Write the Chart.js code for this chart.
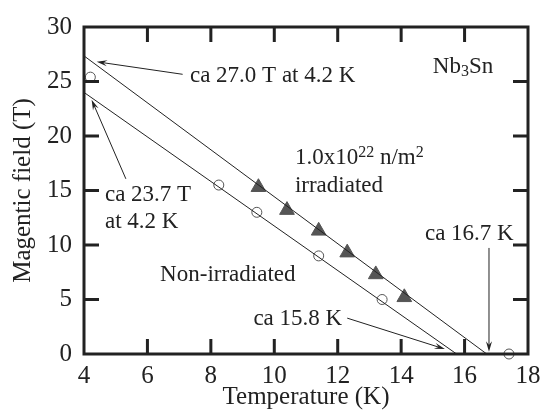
<!DOCTYPE html>
<html>
<head>
<meta charset="utf-8">
<script src="https://cdn.jsdelivr.net/npm/chart.js@4"></script>
<style>
    html, body { margin: 0; padding: 0; background: #fff; }
    #grafico { display: block; }
</style>
</head>
<body>
<canvas id="grafico" width="549" height="412"></canvas>
<script>
// Datos
const xTicks = [4, 6, 8, 10, 12, 14, 16, 18];
const yTicks = [0, 5, 10, 15, 20, 25, 30];

const irrTemp = [9.5, 10.4, 11.4, 12.3, 13.2, 14.1];
const irrField = [15.3, 13.2, 11.3, 9.3, 7.3, 5.2];

const nonTemp = [4.2, 8.25, 9.45, 11.4, 13.4, 17.4];
const nonField = [25.4, 15.5, 13.0, 9.0, 5.0, 0];

const irrFitTemp = [4, 16.7];
const irrFitField = [27.35, 0];
const nonFitTemp = [4, 15.75];
const nonFitField = [24.0, 0];

const serif = '"Liberation Serif", "DejaVu Serif", serif';

// Textos y flechas (en unidades de los ejes)
const textos = [
    { x: 7.34, y: 24.93, parts: [{ t: 'ca 27.0 T at 4.2 K' }] },
    { x: 15.0, y: 25.75, parts: [{ t: 'Nb' }, { t: '3', sub: true }, { t: 'Sn' }] },
    { x: 10.65, y: 17.4, parts: [{ t: '1.0x10' }, { t: '22', sup: true }, { t: ' n/m' }, { t: '2', sup: true }] },
    { x: 10.65, y: 14.87, parts: [{ t: 'irradiated' }] },
    { x: 4.66, y: 14.03, parts: [{ t: 'ca 23.7 T' }] },
    { x: 4.66, y: 11.54, parts: [{ t: 'at 4.2 K' }] },
    { x: 6.4, y: 6.71, parts: [{ t: 'Non-irradiated' }] },
    { x: 14.75, y: 10.49, parts: [{ t: 'ca 16.7 K' }] },
    { x: 12.14, y: 2.63, align: 'right', parts: [{ t: 'ca 15.8 K' }] }
];

const flechas = [
    { from: [7.11, 25.66], to: [4.40, 26.81] },
    { from: [5.32, 16.07], to: [4.24, 23.33] },
    { from: [16.77, 9.73], to: [16.77, 0.21] },
    { from: [12.30, 3.29], to: [15.38, 0.45] }
];

function puntos(xs, ys) {
    return xs.map((x, i) => ({ x: x, y: ys[i] }));
}

function dibujarTexto(ctx, item, px, py) {
    const base = 23;
    const medir = p => {
        ctx.font = ((p.sup || p.sub) ? 16 : base) + 'px ' + serif;
        return ctx.measureText(p.t).width;
    };
    let ancho = item.parts.reduce((s, p) => s + medir(p), 0);
    let x = item.align === 'right' ? px - ancho : px;
    ctx.textAlign = 'left';
    ctx.textBaseline = 'alphabetic';
    ctx.fillStyle = '#222';
    item.parts.forEach(p => {
        const w = medir(p);
        let dy = 0;
        if (p.sup) dy = -7;
        if (p.sub) dy = 3;
        ctx.fillText(p.t, x, py + dy);
        x += w;
    });
}

function dibujarFlecha(ctx, x1, y1, x2, y2) {
    const ang = Math.atan2(y2 - y1, x2 - x1);
    const largo = 11, abre = 0.28;
    ctx.strokeStyle = '#222';
    ctx.fillStyle = '#222';
    ctx.lineWidth = 1;
    ctx.beginPath();
    ctx.moveTo(x1, y1);
    ctx.lineTo(x2 - Math.cos(ang) * 6, y2 - Math.sin(ang) * 6);
    ctx.stroke();
    ctx.beginPath();
    ctx.moveTo(x2, y2);
    ctx.lineTo(x2 - largo * Math.cos(ang - abre), y2 - largo * Math.sin(ang - abre));
    ctx.lineTo(x2 - largo * 0.6 * Math.cos(ang), y2 - largo * 0.6 * Math.sin(ang));
    ctx.lineTo(x2 - largo * Math.cos(ang + abre), y2 - largo * Math.sin(ang + abre));
    ctx.closePath();
    ctx.fill();
}

// Marco, marcas de los ejes y anotaciones
const marcoPlugin = {
    id: 'marco',
    afterDatasetsDraw(chart) {
        const ctx = chart.ctx;
        const a = chart.chartArea;
        const sx = chart.scales.x, sy = chart.scales.y;
        ctx.save();
        ctx.strokeStyle = '#222';
        ctx.lineWidth = 3;
        ctx.strokeRect(a.left, a.top, a.right - a.left, a.bottom - a.top);
        ctx.beginPath();
        xTicks.slice(1, -1).forEach(v => {
            const px = sx.getPixelForValue(v);
            ctx.moveTo(px, a.bottom); ctx.lineTo(px, a.bottom - 15);
            ctx.moveTo(px, a.top); ctx.lineTo(px, a.top + 15);
        });
        yTicks.slice(1, -1).forEach(v => {
            const py = sy.getPixelForValue(v);
            ctx.moveTo(a.left, py); ctx.lineTo(a.left + 15, py);
            ctx.moveTo(a.right, py); ctx.lineTo(a.right - 15, py);
        });
        ctx.stroke();

        flechas.forEach(f => {
            dibujarFlecha(ctx,
                sx.getPixelForValue(f.from[0]), sy.getPixelForValue(f.from[1]),
                sx.getPixelForValue(f.to[0]), sy.getPixelForValue(f.to[1]));
        });
        textos.forEach(t => {
            dibujarTexto(ctx, t, sx.getPixelForValue(t.x), sy.getPixelForValue(t.y));
        });
        ctx.restore();
    }
};

new Chart(document.getElementById('grafico'), {
    type: 'scatter',
    data: {
        datasets: [
            {
                type: 'line',
                data: puntos(irrFitTemp, irrFitField),
                borderColor: '#222',
                borderWidth: 1,
                pointRadius: 0,
                fill: false
            },
            {
                type: 'line',
                data: puntos(nonFitTemp, nonFitField),
                borderColor: '#222',
                borderWidth: 1,
                pointRadius: 0,
                fill: false
            },
            {
                data: puntos(irrTemp, irrField),
                pointStyle: 'triangle',
                pointRadius: 8.5,
                backgroundColor: '#555',
                borderColor: '#555',
                borderWidth: 1,
                clip: false
            },
            {
                data: puntos(nonTemp, nonField),
                pointStyle: 'circle',
                pointRadius: 5,
                backgroundColor: '#fff',
                borderColor: '#555',
                borderWidth: 1,
                clip: false
            }
        ]
    },
    options: {
        responsive: false,
        animation: false,
        layout: { padding: { top: 23, right: 21, left: 0, bottom: 0 } },
        plugins: {
            legend: { display: false },
            tooltip: { enabled: false }
        },
        scales: {
            x: {
                type: 'linear',
                min: 4,
                max: 18,
                afterBuildTicks: s => { s.ticks = xTicks.map(v => ({ value: v })); },
                afterFit: s => { s.height = 58; },
                grid: { display: false, drawTicks: false },
                border: { display: false },
                ticks: { color: '#222', padding: 7, font: { family: serif, size: 25 } },
                title: {
                    display: true,
                    text: 'Temperature (K)',
                    color: '#222',
                    padding: { top: 0, bottom: 0 },
                    font: { family: serif, size: 25 }
                }
            },
            y: {
                type: 'linear',
                min: 0,
                max: 30,
                afterBuildTicks: s => { s.ticks = yTicks.map(v => ({ value: v })); },
                afterFit: s => { s.width = 84; },
                grid: { display: false, drawTicks: false },
                border: { display: false },
                ticks: { color: '#222', padding: 12, font: { family: serif, size: 25 } },
                title: {
                    display: true,
                    text: 'Magentic field (T)',
                    color: '#222',
                    padding: { top: 8, bottom: 0 },
                    font: { family: serif, size: 25 }
                }
            }
        }
    },
    plugins: [marcoPlugin]
});
</script>
</body>
</html>
